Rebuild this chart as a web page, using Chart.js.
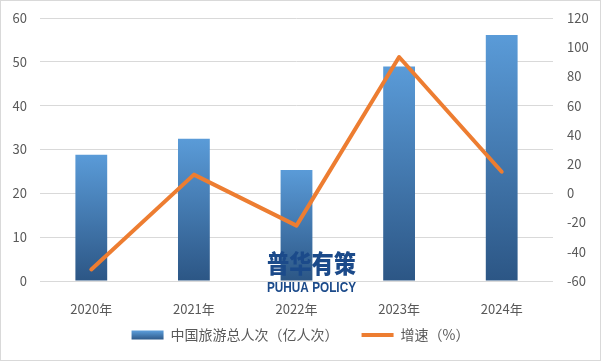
<!DOCTYPE html>
<html><head><meta charset="utf-8">
<script src="https://cdn.jsdelivr.net/npm/chart.js@4/dist/chart.umd.min.js"></script>
<style>html,body{margin:0;padding:0;background:#fff}#wrap{width:601px;height:361px;position:relative}</style>
</head><body><div id="wrap"><canvas id="c" width="601" height="361"></canvas></div>
<script>
const categories = ['2020年','2021年','2022年','2023年','2024年'];
const visitors = [28.79, 32.46, 25.30, 48.91, 56.15];
const growth = [-52.1, 12.8, -22.1, 93.3, 14.8];
const leftTicks = [0,10,20,30,40,50,60];
const rightTicks = [-60,-40,-20,0,20,40,60,80,100,120];
const seriesNames = ['中国旅游总人次（亿人次）','增速（%）'];

const FONT = '"Noto Sans CJK SC", "Noto Sans", sans-serif';
const TOP_C = '#5A9BD8', BOT_C = '#2C5685', ORANGE = '#ED7D31';

function barGrad(ctx){
  const chart = ctx.chart;
  if(!chart.chartArea || ctx.raw === undefined) return TOP_C;
  const ys = chart.scales.y;
  const t = ys.getPixelForValue(ctx.raw), b = ys.getPixelForValue(0);
  const g = chart.ctx.createLinearGradient(0,t,0,b);
  g.addColorStop(0,TOP_C); g.addColorStop(1,BOT_C);
  return g;
}

const legendFix = {
  id:'legendFix',
  beforeLayout(chart){
    const lg = chart.legend;
    if(lg && !lg.__p){ const f = lg.fit; lg.fit = function(){ f.call(this); this.height = 34; }; lg.__p = true; }
  },
  afterLayout(chart){ const lg = chart.legend; if(lg){ lg.top -= 13; lg.height += 13; } }
};

const frame = {
  id:'frame',
  beforeDraw(chart){
    const c = chart.ctx; c.save(); c.fillStyle='#fff'; c.fillRect(0,0,chart.width,chart.height);
    c.strokeStyle='#D9D9D9'; c.lineWidth=1; c.strokeRect(0.5,0.5,chart.width-1,chart.height-1); c.restore();
  },
  afterDraw(chart){
    const c = chart.ctx; c.save();
    c.fillStyle = '#1B4A8A';
    c.textBaseline='alphabetic'; c.textAlign='left';
    c.font = '900 23px "Noto Sans CJK SC"';
    let w = c.measureText('普华有策').width;
    c.save(); c.translate(267,273); c.scale(89/w,1.08); c.fillText('普华有策',0,0); c.restore();
    c.font = 'bold 15px "Liberation Sans Narrow", "Liberation Sans", sans-serif';
    w = c.measureText('PUHUA POLICY').width;
    c.save(); c.translate(267,292); c.scale(89/w,1); c.fillText('PUHUA POLICY',0,0); c.restore();
    c.restore();
  }
};

new Chart(document.getElementById('c'), {
  data:{
    labels: categories,
    datasets:[
      {type:'line', label:seriesNames[1], data:growth, yAxisID:'y1', borderColor:ORANGE, backgroundColor:ORANGE,
       borderWidth:4, pointRadius:0, pointHoverRadius:0, tension:0, borderJoinStyle:'round', borderCapStyle:'round', order:0},
      {type:'bar', label:seriesNames[0], data:visitors, yAxisID:'y', backgroundColor:barGrad,
       barPercentage:0.31, categoryPercentage:1, order:1}
    ]
  },
  options:{
    responsive:false, animation:false, devicePixelRatio:1,
    layout:{padding:{top:18,left:0,right:0,bottom:9}},
    plugins:{
      tooltip:{enabled:false},
      legend:{position:'bottom',
        labels:{font:{family:FONT,size:14}, color:'#595959', usePointStyle:true, pointStyleWidth:32, boxHeight:9, padding:23,
          generateLabels(chart){
            const c = chart.ctx;
            const g = c.createLinearGradient(0,331,0,340); g.addColorStop(0,TOP_C); g.addColorStop(1,BOT_C);
            return [
              {text:seriesNames[0], fillStyle:g, strokeStyle:'rgba(0,0,0,0)', lineWidth:0, pointStyle:'rect', datasetIndex:1, fontColor:'#595959'},
              {text:seriesNames[1], fillStyle:ORANGE, strokeStyle:ORANGE, lineWidth:4, pointStyle:'line', datasetIndex:0, fontColor:'#595959'}
            ];
          }
        }
      }
    },
    scales:{
      x:{grid:{display:false}, border:{display:false},
         ticks:{font:{family:FONT,size:13}, color:'#595959', padding:12, maxRotation:0},
         afterFit(s){ s.height = 37; }},
      y:{position:'left', min:0, max:60,
         afterBuildTicks(s){ s.ticks = leftTicks.map(v=>({value:v})); },
         grid:{color:'#D9D9D9', drawTicks:false}, border:{display:false},
         ticks:{font:{family:FONT,size:13}, color:'#595959', padding:13},
         afterFit(s){ s.width = 40; s.paddingTop = 0; s.paddingBottom = 0; }},
      y1:{position:'right', min:-60, max:120,
         afterBuildTicks(s){ s.ticks = rightTicks.map(v=>({value:v})); },
         grid:{display:false, drawTicks:false}, border:{display:false},
         ticks:{font:{family:FONT,size:13}, color:'#595959', padding:14},
         afterFit(s){ s.width = 48; s.paddingTop = 0; s.paddingBottom = 0; }}
    }
  },
  plugins:[frame, legendFix]
});
</script></body></html>
